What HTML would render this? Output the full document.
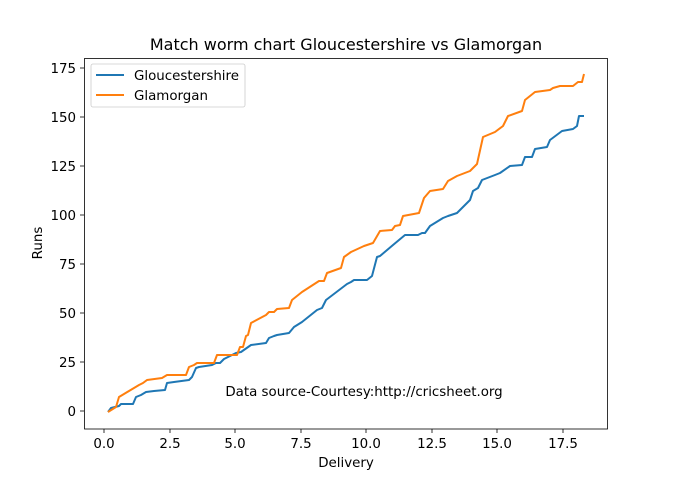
<!DOCTYPE html>
<html><head><style>body{margin:0;background:#fff}svg{display:block;font-family:"DejaVu Sans","Liberation Sans",sans-serif}</style></head>
<body>
<svg width="675" height="482" viewBox="0 0 675 482" xmlns="http://www.w3.org/2000/svg">
<rect width="675" height="482" fill="#fff"/>
<text x="346" y="50" font-size="16" text-anchor="middle">Match worm chart Gloucestershire vs Glamorgan</text>
<g stroke="#000" stroke-width="0.8">
<line x1="104" y1="429" x2="104" y2="433"/><line x1="170" y1="429" x2="170" y2="433"/><line x1="235" y1="429" x2="235" y2="433"/><line x1="301" y1="429" x2="301" y2="433"/><line x1="366" y1="429" x2="366" y2="433"/><line x1="432" y1="429" x2="432" y2="433"/><line x1="497" y1="429" x2="497" y2="433"/><line x1="563" y1="429" x2="563" y2="433"/>
<line x1="80" y1="411" x2="84" y2="411"/><line x1="80" y1="362" x2="84" y2="362"/><line x1="80" y1="313" x2="84" y2="313"/><line x1="80" y1="264" x2="84" y2="264"/><line x1="80" y1="215" x2="84" y2="215"/><line x1="80" y1="166" x2="84" y2="166"/><line x1="80" y1="117" x2="84" y2="117"/><line x1="80" y1="68" x2="84" y2="68"/>
</g>
<g font-size="13.4" text-anchor="middle">
<text x="104" y="448">0.0</text><text x="170" y="448">2.5</text><text x="235" y="448">5.0</text><text x="301" y="448">7.5</text><text x="366" y="448">10.0</text><text x="432" y="448">12.5</text><text x="497" y="448">15.0</text><text x="563" y="448">17.5</text>
<text x="346" y="467">Delivery</text>
</g>
<g font-size="13.4" text-anchor="end">
<text x="76" y="416">0</text><text x="76" y="367">25</text><text x="76" y="318">50</text><text x="76" y="269">75</text><text x="76" y="220">100</text><text x="76" y="171">125</text><text x="76" y="122">150</text><text x="76" y="73">175</text>
</g>
<text x="42" y="243" font-size="13.4" text-anchor="middle" transform="rotate(-90 42 243)">Runs</text>
<polyline fill="none" stroke="#1f77b4" stroke-width="2" stroke-linejoin="round" points="108,412 111,408 119,406 121,404 133,404 136,397 141,395 146,392 154,391 165,390 167,383 174,382 189,380 192,377 196,368 199,367 212,365 216,363 220,363 224,359 236,353 241,352 251,345 266,343 269,338 274,336 277,335 289,333 294,327 302,322 317,310 322,308 326,300 347,284 351,282 354,280 364,280 367,280 372,276 377,257 380,256 393,245 405,235 418,235 422,233 425,233 430,226 443,218 448,216 457,213 470,200 473,191 478,188 482,180 495,175 500,173 510,166 522,165 525,157 532,157 535,149 547,147 550,140 562,131 573,129 577,126 579,116 584,116"/>
<polyline fill="none" stroke="#ff7f0e" stroke-width="2" stroke-linejoin="round" points="108,412 116,407 119,397 134,388 139,385 143,383 147,380 162,378 167,375 186,375 189,367 194,365 197,363 214,363 217,355 237,355 240,347 243,347 246,336 248,335 251,323 266,315 269,312 274,312 277,309 289,308 292,300 302,292 319,281 324,281 327,273 341,268 344,257 351,252 364,246 367,245 373,243 380,231 392,230 395,226 400,225 403,216 419,213 424,198 430,191 443,189 448,181 457,176 470,171 477,164 483,137 495,132 503,126 508,116 522,111 525,100 535,92 550,90 553,88 560,86 573,86 578,82 582,82 584,74"/>
<rect x="84.5" y="58.5" width="523" height="370.5" fill="none" stroke="#000" stroke-width="0.8"/>
<text x="364" y="396" font-size="13.4" text-anchor="middle">Data source-Courtesy:http://cricsheet.org</text>
<rect x="91" y="64" width="154" height="43" rx="2" fill="#fff" stroke="#ccc" stroke-width="0.8"/>
<line x1="96" y1="75" x2="124" y2="75" stroke="#1f77b4" stroke-width="2"/>
<line x1="96" y1="95" x2="124" y2="95" stroke="#ff7f0e" stroke-width="2"/>
<text x="134" y="80" font-size="13.4">Gloucestershire</text>
<text x="134" y="100" font-size="13.4">Glamorgan</text>
</svg>
</body></html>
